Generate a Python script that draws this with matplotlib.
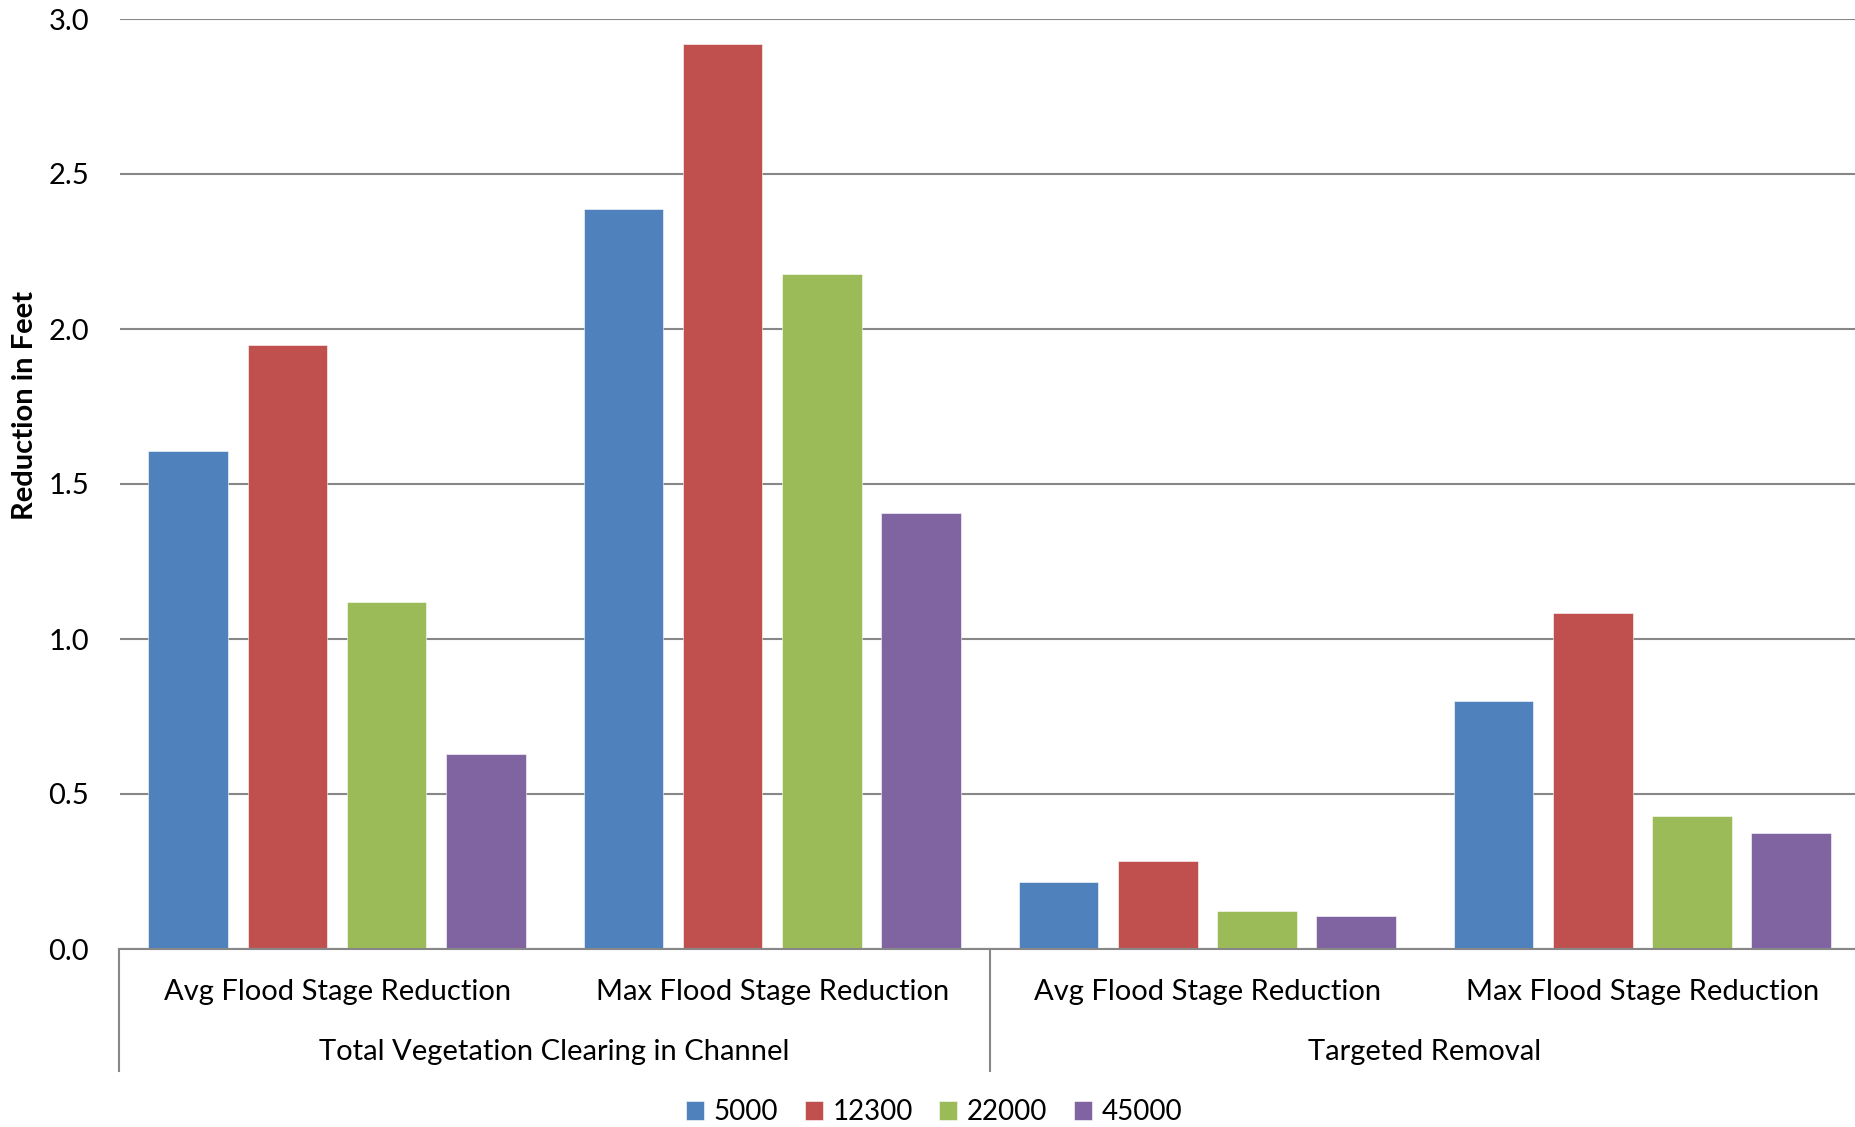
import matplotlib
matplotlib.use("Agg")
import matplotlib.pyplot as plt
import numpy as np

# Flood stage reduction (feet) by flow rate
categories = ["Avg Flood Stage Reduction", "Max Flood Stage Reduction",
              "Avg Flood Stage Reduction", "Max Flood Stage Reduction"]
groups = ["Total Vegetation Clearing in Channel", "Targeted Removal"]
series_names = ["5000", "12300", "22000", "45000"]
flow_5000 = [1.607, 2.387, 0.216, 0.800]
flow_12300 = [1.947, 2.920, 0.285, 1.083]
flow_22000 = [1.118, 2.177, 0.124, 0.428]
flow_45000 = [0.630, 1.405, 0.108, 0.375]
y_ticks = [0.0, 0.5, 1.0, 1.5, 2.0, 2.5, 3.0]

colors = ["#4F81BD", "#C0504D", "#9BBB59", "#8064A2"]
series = [flow_5000, flow_12300, flow_22000, flow_45000]

plt.rcParams["font.family"] = ["Lato", "DejaVu Sans"]
FS = 21
W, H = 1855, 1127
fig = plt.figure(figsize=(W / 100, H / 100), dpi=100)
ax = fig.add_axes([119.5 / W, 1 - 949 / H, (1860 - 119.5) / W, (949 - 19) / H])

x = np.arange(len(categories))
step, width = 0.228, 0.183
for i, (vals, col, name) in enumerate(zip(series, colors, series_names)):
    ax.bar(x + (i - 1.5) * step, vals, width, color=col, label=name,
           edgecolor="white", linewidth=0.4, zorder=3)

ax.set_xlim(-0.5, len(categories) - 0.5)
ax.set_ylim(0, 3.0)
ax.set_yticks(y_ticks)
ax.set_yticklabels([f"{t:.1f}" for t in y_ticks], fontsize=FS)
ax.tick_params(axis="y", length=0, pad=22)
ax.set_xticks([])
ax.yaxis.grid(True, color="#878787", linewidth=1.5, zorder=0)
for s in ["top", "right", "left"]:
    ax.spines[s].set_visible(False)
ax.spines["bottom"].set_color("#878787")
ax.spines["bottom"].set_linewidth(1.5)
ax.spines["bottom"].set_zorder(4)

# Two-level category axis
trans = ax.get_xaxis_transform()
for xi, lab in zip(x, categories):
    ax.text(xi, -0.046, lab, transform=trans, ha="center", va="center",
            fontsize=FS, clip_on=False)
for gi, g in enumerate(groups):
    ax.text(2 * gi + 0.5, -0.111, g, transform=trans, ha="center",
            va="center", fontsize=FS, clip_on=False)
for xb in [-0.5, 1.5, 3.5]:
    ax.plot([xb, xb], [0, -0.131], transform=trans, color="#878787",
            linewidth=1.5, clip_on=False)

fig.text(25 / W, 1 - 406 / H, "Reduction in Feet", rotation=90,
         ha="center", va="center", fontsize=FS, fontweight="bold")

leg = fig.legend(loc="center", bbox_to_anchor=(934 / W, 1 - 1112 / H),
                 ncol=4, frameon=False, fontsize=20, handlelength=0.65,
                 handleheight=0.65, handletextpad=0.35, columnspacing=0.95)

fig.savefig("out.png", dpi=100)
